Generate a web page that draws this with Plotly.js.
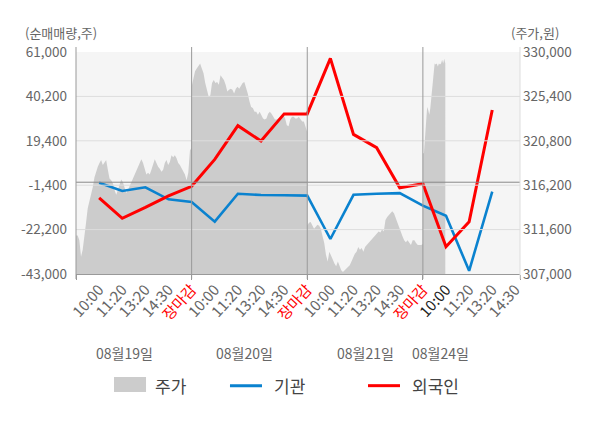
<!DOCTYPE html>
<html>
<head>
<meta charset="utf-8">
<script src="https://cdn.plot.ly/plotly-3.0.1.min.js"></script>
<style>
  html, body { margin: 0; padding: 0; background: #fff; }
  #chart { width: 600px; height: 428px; }
</style>
</head>
<body>
<div id="chart"></div>
<script>
// x 슬롯 라벨 (하루 5칸)
const timeLabels = ['10:00', '11:20', '13:20', '14:30', '장마감',
  '10:00', '11:20', '13:20', '14:30', '장마감',
  '10:00', '11:20', '13:20', '14:30', '장마감',
  '10:00', '11:20', '13:20', '14:30'];
const dates = ['08월19일', '08월20일', '08월21일', '08월24일'];

// 순매매량 (주)
const kigwan = [-300, -4100, -2400, -8000, -9300, -18500, -5400, -6000, -6100, -6300,
  -26600, -5900, -5400, -5100, -11000, -15700, -41500, -4400];
const foreign = [-7300, -16900, -11800, -6400, -1900, 10700, 26500, 19300, 32000, 32000,
  58000, 22400, 16200, -2600, -700, -30200, -18500, 33800];

// 주가 (원), 일별 분봉
const price0819 = [311000, 311000, 310500, 308800, 309500, 310700, 312300, 313800, 314500, 315500,
  316000, 317000, 317600, 318100, 318500, 318800, 318300, 318600, 318800, 317800,
  316900, 316700, 316400, 315700, 315200, 315700, 316400, 316800, 316500, 315900,
  315400, 315700, 316200, 316500, 316900, 317300, 317600, 318100, 318500, 318900,
  318500, 317800, 317300, 317500, 317300, 317800, 318500, 318900, 318500, 318100,
  317900, 317600, 317800, 318500, 318800, 318300, 318600, 319300, 319100, 319300,
  319000, 318500, 318300, 318000, 317600, 317300, 316700, 317500, 319800, 320100];
const price0820 = [326400, 327400, 328000, 328300, 328500, 328800, 328300, 327800, 326800, 325900,
  325400, 325500, 326800, 327100, 326800, 326900, 326600, 327600, 327400, 327100,
  326600, 325900, 326100, 326200, 326100, 325700, 326200, 326400, 326200, 326500,
  326800, 326900, 326400, 325700, 324900, 324300, 324200, 323800, 323800, 323500,
  323800, 323500, 323100, 323000, 323100, 323600, 323800, 323600, 323300, 323000,
  323000, 323100, 323100, 323300, 323500, 323100, 322400, 322300, 323000, 323300,
  323300, 323100, 323100, 323300, 323100, 322800, 322800, 322100, 321700];
const price0821 = [312000, 312300, 312400, 312100, 311700, 311900, 312100, 312000, 311700, 310900,
  310200, 309000, 308300, 309300, 308800, 308500, 308100, 307800, 308300, 307800,
  307400, 307200, 307400, 307600, 307800, 307900, 308300, 308800, 309100, 309300,
  309800, 309500, 309700, 309300, 309800, 310000, 310200, 310500, 310700, 310900,
  311000, 311200, 311400, 311300, 311600, 311400, 312600, 312900, 313100, 313300,
  313500, 313300, 312800, 312300, 311700, 311200, 310900, 310500, 310300, 310500,
  310300, 310000, 310500, 310500, 310200, 310000, 310000, 310000, 310100];
const price0824 = [319500, 319500, 321500, 323300, 324300, 324000, 323500, 324200, 325400, 326400,
  328100, 328800, 328700, 328800, 328500, 328800, 328700, 328800, 329200, 328800, 329300, 328800];

const leftTicks = [-43000, -22200, -1400, 19400, 40200, 61000];
const leftTickText = ['-43,000', '-22,200', '-1,400', '19,400', '40,200', '61,000'];
const rightTicks = [307000, 311600, 316200, 320800, 325400, 330000];
const rightTickText = ['307,000', '311,600', '316,200', '320,800', '325,400', '330,000'];

const FONT = 'Noto Sans CJK KR, Noto Sans, sans-serif';
const GRAY_TXT = '#666666';

// 일별 주가를 해당 날짜 구간에 균등 배치
const daySpans = [[0, 5], [5, 10], [10, 15], [15, 15.97]];
const priceDays = [price0819, price0820, price0821, price0824];
const priceX = [];
const priceY = [];
priceDays.forEach((arr, d) => {
  const [s, e] = daySpans[d];
  arr.forEach((v, j) => {
    priceX.push(s + (e - s) * j / (arr.length - 1));
    priceY.push(v);
  });
});

const slots = timeLabels.map((_, i) => i + 1);
const tickText = timeLabels.map((t, i) => {
  if (t === '장마감') return '<span style="color:#ff0000">' + t + '</span>';
  if (i === 15) return '<span style="color:#222222">' + t + '</span>';
  return t;
});

// 주가 영역은 기본 축(y, 오른쪽), 순매매량 선은 겹친 축(y2, 왼쪽) → 선이 영역 위에 그려짐
const priceTrace = {
  x: priceX, y: priceY, yaxis: 'y',
  type: 'scatter', mode: 'lines',
  fill: 'tozeroy', fillcolor: '#cccccc',
  line: { width: 0, color: '#cccccc' },
  hoverinfo: 'skip', showlegend: false
};
const kigwanTrace = {
  x: slots.slice(0, kigwan.length), y: kigwan, yaxis: 'y2',
  type: 'scatter', mode: 'lines',
  line: { color: '#0a82cf', width: 2.6 },
  showlegend: false
};
const foreignTrace = {
  x: slots.slice(0, foreign.length), y: foreign, yaxis: 'y2',
  type: 'scatter', mode: 'lines',
  line: { color: '#ff0000', width: 3 },
  showlegend: false
};

// 세로 구분선 (축 테두리 + 날짜 경계)
const shapes = [];
const vline = (x, xref, color) => ({
  type: 'line', xref: xref, yref: 'paper', x0: x, x1: x, y0: -0.0225, y1: 1.0225,
  line: { color: color, width: 1 }, layer: 'above'
});
// 가로 격자 (회색 영역 위로 보이도록)
leftTicks.slice(1, -1).forEach(v => shapes.push({
  type: 'line', xref: 'paper', yref: 'y2', x0: 0, x1: 1, y0: v, y1: v,
  line: { color: '#dddddd', width: 1 }, layer: 'above'
}));
shapes.push({
  type: 'line', xref: 'paper', yref: 'y2', x0: 0, x1: 1, y0: 0, y1: 0,
  line: { color: '#888888', width: 1 }, layer: 'above'
});
shapes.push(vline(0, 'paper', '#999999'));
shapes.push(vline(1, 'paper', '#dddddd'));
[5, 10, 15].forEach(x => shapes.push(vline(x, 'x', '#999999')));

// 범례 (수동)
shapes.push({ type: 'rect', xref: 'paper', yref: 'paper', x0: 0.0856, x1: 0.1577, y0: -0.5315, y1: -0.464,
  fillcolor: '#cccccc', line: { width: 0 } });
shapes.push({ type: 'line', xref: 'paper', yref: 'paper', x0: 0.3468, x1: 0.4189, y0: -0.503, y1: -0.503,
  line: { color: '#0a82cf', width: 3 } });
shapes.push({ type: 'line', xref: 'paper', yref: 'paper', x0: 0.6577, x1: 0.7297, y0: -0.503, y1: -0.503,
  line: { color: '#ff0000', width: 3 } });

const annotations = [];
const legendNames = ['주가', '기관', '외국인'];
[0.1734, 0.4414, 0.7523].forEach((x, i) => annotations.push({
  xref: 'paper', yref: 'paper', x: x, y: -0.5045, xanchor: 'left', yanchor: 'middle',
  text: legendNames[i], showarrow: false, font: { family: FONT, size: 17, color: '#444444' }
}));
[2.1, 7.27, 12.5, 15.76].forEach((x, i) => annotations.push({
  xref: 'x', yref: 'paper', x: x, y: -0.356, xanchor: 'center', yanchor: 'middle',
  text: dates[i], showarrow: false, font: { family: FONT, size: 14, color: GRAY_TXT }
}));
annotations.push({
  xref: 'paper', yref: 'paper', x: -0.0338, y: 1.09, xanchor: 'center', yanchor: 'middle',
  text: '(순매매량,주)', showarrow: false, font: { family: FONT, size: 13, color: GRAY_TXT }
});
annotations.push({
  xref: 'paper', yref: 'paper', x: 1.0338, y: 1.09, xanchor: 'center', yanchor: 'middle',
  text: '(주가,원)', showarrow: false, font: { family: FONT, size: 13, color: GRAY_TXT }
});

const layout = {
  width: 600, height: 428,
  margin: { l: 76, r: 80, t: 52, b: 154 },
  paper_bgcolor: '#ffffff', plot_bgcolor: '#f5f5f5',
  font: { family: FONT, color: GRAY_TXT },
  showlegend: false,
  xaxis: {
    range: [0, 19.2], tickmode: 'array', tickvals: slots, ticktext: tickText,
    tickangle: -48, ticks: '', showgrid: false, zeroline: false,
    showline: true, linecolor: '#999999', linewidth: 1,
    tickfont: { family: FONT, size: 15, color: GRAY_TXT },
    minor: { tickmode: 'array', tickvals: [0, 5, 10, 15, 19.2], ticks: 'outside', ticklen: 5,
      tickcolor: '#999999', tickwidth: 1, showgrid: false }
  },
  yaxis: {
    side: 'right',
    range: [307000, 330000], tickmode: 'array', tickvals: rightTicks, ticktext: rightTickText,
    showgrid: false, zeroline: false, showline: false, ticks: '',
    ticklabelstandoff: 2,
    tickfont: { family: FONT, size: 13.5, color: GRAY_TXT }
  },
  yaxis2: {
    overlaying: 'y', side: 'left',
    range: [-43000, 61000], tickmode: 'array', tickvals: leftTicks, ticktext: leftTickText,
    showgrid: false, zeroline: false, showline: false, ticks: '',
    ticklabelstandoff: 8,
    tickfont: { family: FONT, size: 13.5, color: GRAY_TXT }
  },
  shapes: shapes,
  annotations: annotations
};

Plotly.newPlot('chart', [priceTrace, kigwanTrace, foreignTrace], layout, { displayModeBar: false, staticPlot: true });
</script>
</body>
</html>
